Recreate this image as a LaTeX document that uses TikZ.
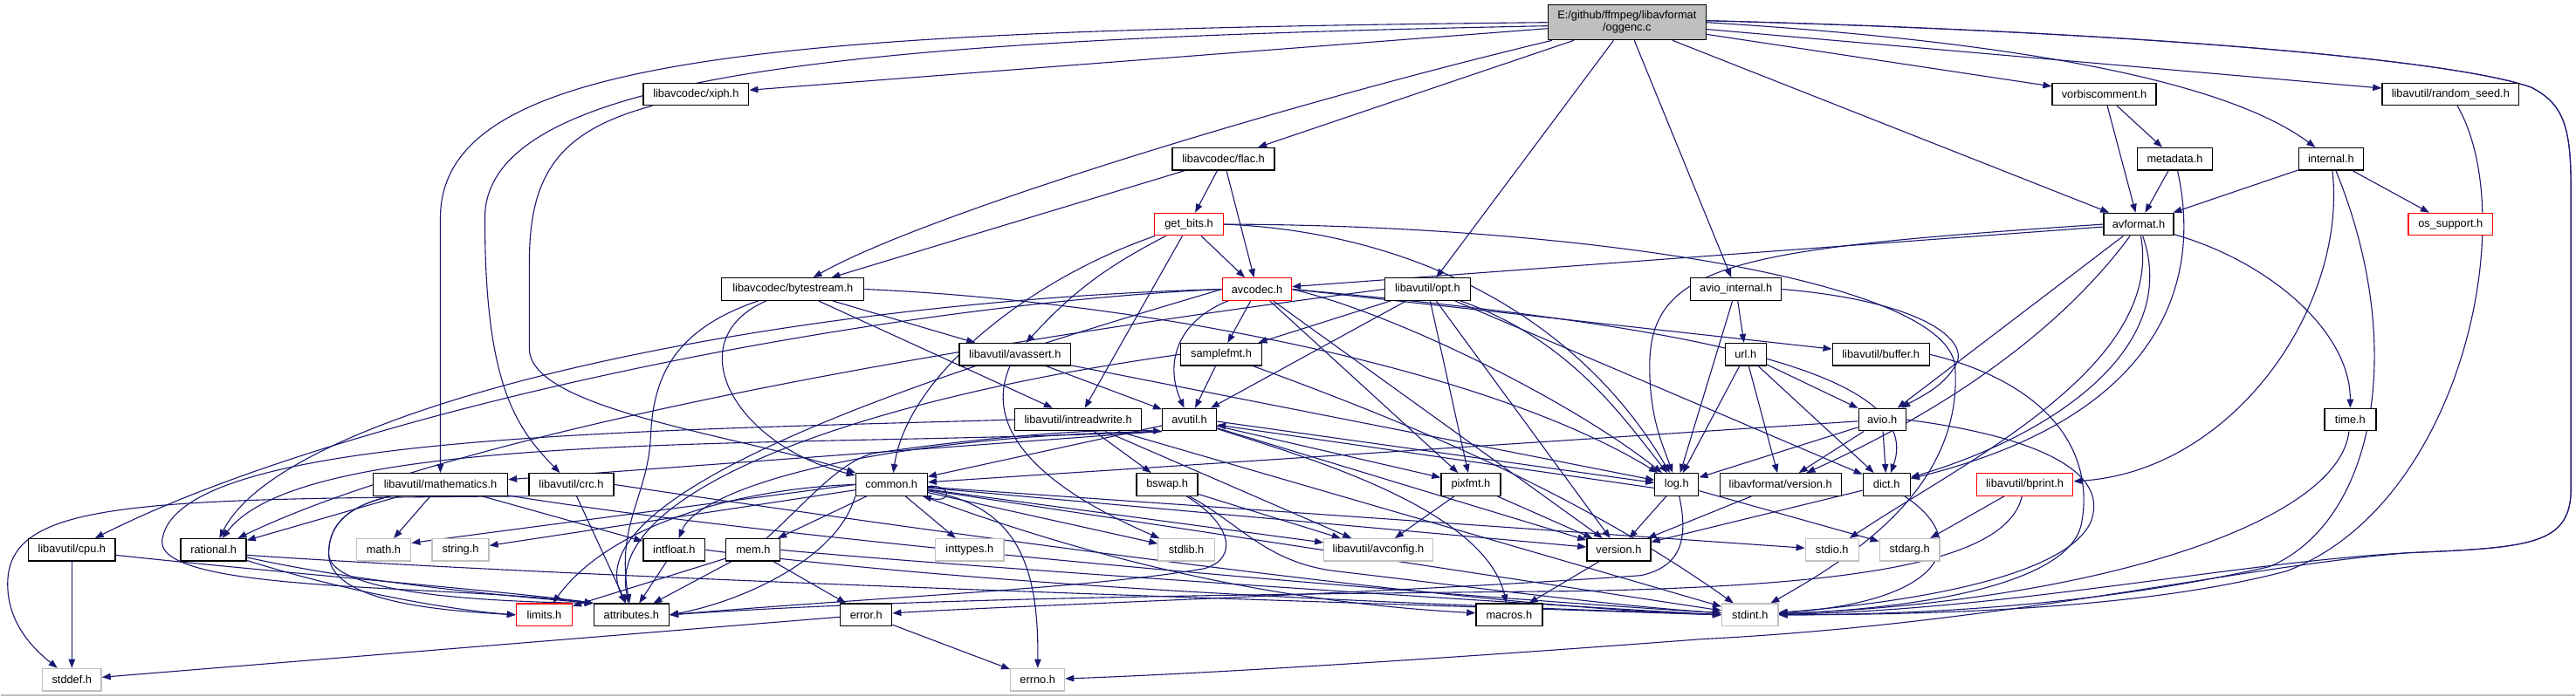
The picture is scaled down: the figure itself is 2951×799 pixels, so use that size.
\documentclass[tikz,border=0pt]{standalone}
\usepackage{fontspec}
\setmainfont{Liberation Sans}
\usetikzlibrary{arrows.meta}
\definecolor{edgec}{RGB}{25,25,112}
\definecolor{graybd}{RGB}{191,191,191}
\definecolor{rootfill}{RGB}{191,191,191}
\pgfdeclarelayer{bgl}
\pgfdeclarelayer{edgelayer}
\pgfsetlayers{bgl,edgelayer,main}
\newcommand{\mynode}[6]{\node[#5, minimum width=#4pt] (#1) at (#2,-#3) {#6};}
\begin{document}
\begin{tikzpicture}[x=1pt,y=1pt,
  box/.style={draw, rectangle, inner sep=0pt, minimum height=25.5pt, fill=white, line width=1.3pt,
    font=\fontsize{12.8pt}{14pt}\selectfont},
  nb/.style={box, draw=black},
  gb/.style={box, draw=graybd},
  rb/.style={box, draw=red},
  dep/.style={draw=edgec, line width=1.1pt, -{Triangle[length=10pt,width=7.5pt]}}]
\begin{pgfonlayer}{bgl}
\fill[white] (0,0) rectangle (2951,-799);
\draw[graybd, line width=1.5pt] (0,-797.5) -- (2951,-797.5);
\end{pgfonlayer}
\useasboundingbox (0,0) rectangle (2951,-799);

% ---------- nodes ----------
\node[box, draw=black, fill=rootfill, minimum width=181pt, minimum height=40pt, align=center]
  (root) at (1864,-25.7) {E:/github/ffmpeg/libavformat\\/oggenc.c};
\mynode{xiph}{797}{108}{121}{nb}{libavcodec/xiph.h}
\mynode{vorbis}{2411}{108}{119}{nb}{vorbiscomment.h}
\mynode{randseed}{2808}{108}{157}{nb}{libavutil/random\_seed.h}
\mynode{flac}{1401.5}{182.3}{117}{nb}{libavcodec/flac.h}
\mynode{metadata}{2492}{182.3}{86}{nb}{metadata.h}
\mynode{internal}{2671}{182.3}{74}{nb}{internal.h}
\mynode{getbits}{1362}{257.2}{79}{rb}{get\_bits.h}
\mynode{avformat}{2450.5}{257.2}{80}{nb}{avformat.h}
\mynode{ossupport}{2808}{257.2}{97}{rb}{os\_support.h}
\mynode{bytestream}{908}{331.7}{163}{nb}{libavcodec/bytestream.h}
\mynode{avcodec}{1440}{331.7}{79}{rb}{avcodec.h}
\mynode{opt}{1635.5}{331.7}{98}{nb}{libavutil/opt.h}
\mynode{aviointernal}{1989}{331.7}{104}{nb}{avio\_internal.h}
\mynode{avassert}{1162.6}{406.5}{127.5}{nb}{libavutil/avassert.h}
\mynode{samplefmt}{1399}{406.5}{92.5}{nb}{samplefmt.h}
\mynode{url}{2000}{406.5}{47}{nb}{url.h}
\mynode{buffer}{2155}{406.5}{111}{nb}{libavutil/buffer.h}
\mynode{intreadwrite}{1235}{481.3}{145}{nb}{libavutil/intreadwrite.h}
\mynode{avutil}{1362.5}{481.3}{62}{nb}{avutil.h}
\mynode{avio}{2156.5}{481.3}{54}{nb}{avio.h}
\mynode{time}{2693}{481.3}{59}{nb}{time.h}
\mynode{mathematics}{504}{555.7}{154}{nb}{libavutil/mathematics.h}
\mynode{crc}{654}{555.7}{97}{nb}{libavutil/crc.h}
\mynode{common}{1021}{555.7}{82}{nb}{common.h}
\mynode{bswap}{1337}{555.7}{70}{nb}{bswap.h}
\mynode{pixfmt}{1685}{555.7}{68}{nb}{pixfmt.h}
\mynode{log}{1921}{555.7}{50}{nb}{log.h}
\mynode{lavfversion}{2040}{555.7}{139}{nb}{libavformat/version.h}
\mynode{dict}{2161.5}{555.7}{54}{nb}{dict.h}
\mynode{bprint}{2320}{555.7}{110.5}{rb}{libavutil/bprint.h}
\mynode{cpu}{81.6}{630.7}{99.5}{nb}{libavutil/cpu.h}
\mynode{rational}{244}{630.7}{75}{nb}{rational.h}
\mynode{math}{439}{630.7}{62.5}{gb}{math.h}
\mynode{string}{527}{630.7}{65}{gb}{string.h}
\mynode{intfloat}{772}{630.7}{71}{nb}{intfloat.h}
\mynode{mem}{862.5}{630.7}{62}{nb}{mem.h}
\mynode{inttypes}{1110.6}{630.7}{78.5}{gb}{inttypes.h}
\mynode{stdlib}{1359}{630.7}{64.5}{gb}{stdlib.h}
\mynode{avconfig}{1579}{630.7}{124.5}{gb}{libavutil/avconfig.h}
\mynode{version}{1854.6}{630.7}{73}{nb}{version.h}
\mynode{stdio}{2099}{630.7}{61}{gb}{stdio.h}
\mynode{stdarg}{2188}{630.7}{69}{gb}{stdarg.h}
\mynode{limits}{623}{705.2}{64}{rb}{limits.h}
\mynode{attributes}{723}{705.2}{86}{nb}{attributes.h}
\mynode{error}{992}{705.2}{59}{nb}{error.h}
\mynode{macros}{1729}{705.2}{76}{nb}{macros.h}
\mynode{stdint}{2005}{705.2}{64.5}{gb}{stdint.h}
\mynode{stddef}{81.6}{779.5}{67.6}{gb}{stddef.h}
\mynode{errno}{1188.5}{779.5}{62}{gb}{errno.h}

% ---------- edges ----------
\begin{pgfonlayer}{edgelayer}
% root
\draw[dep] (root) -- (xiph);
\draw[dep] (root.west) .. controls (900,-35) and (504,-60) .. (504,-250) -- (mathematics);
\draw[dep] ([yshift=-4pt]root.west) .. controls (1000,-45) and (555,-80) .. (555,-250) .. controls (555,-440) and (590,-490) .. (crc);
\draw[dep] (root) .. controls (1450,-125) and (1050,-250) .. (bytestream);
\draw[dep] (root) -- (flac);
\draw[dep] (root) -- (opt);
\draw[dep] (root) -- (aviointernal);
\draw[dep] (root) -- (avformat);
\draw[dep] (root) -- (vorbis);
\draw[dep] (root) -- (randseed);
\draw[dep] (root.east) .. controls (2350,-50) and (2560,-100) .. (internal);
\draw[dep] ([yshift=2pt]root.east) .. controls (2400,-35) and (2800,-65) .. (2900,-100) .. controls (2940,-120) and (2946,-150) .. (2946,-220) -- (2946,-560) .. controls (2946,-625) and (2900,-628) .. (2760,-634) .. controls (2560,-645) and (2300,-700) .. (stdint);
\draw[dep] ([yshift=2pt]root.east) .. controls (2400,-35) and (2800,-65) .. (2900,-100) .. controls (2940,-120) and (2946,-150) .. (2946,-220) -- (2946,-560) .. controls (2946,-625) and (2900,-628) .. (2760,-634) .. controls (2560,-650) and (2300,-715) .. (1950,-733) .. controls (1700,-752) and (1400,-772) .. (errno);
% xiph
\draw[dep] (xiph) .. controls (640,-150) and (606,-200) .. (606,-300) -- (606,-400) .. controls (606,-470) and (850,-500) .. (common);
% flac
\draw[dep] (flac) -- (bytestream);
\draw[dep] (flac) -- (getbits);
\draw[dep] (flac) -- (avcodec);
% get_bits
\draw[dep] (getbits) -- (avcodec);
\draw[dep] (getbits) to[bend right=10] (avassert);
\draw[dep] (getbits) -- (intreadwrite);
\draw[dep] (getbits) .. controls (1180,-320) and (1040,-430) .. (common);
\draw[dep] (getbits.east) .. controls (1600,-265) and (1800,-350) .. (log);
\draw[dep] (getbits.east) .. controls (1800,-258) and (2230,-320) .. (2240,-420) .. controls (2250,-560) and (2120,-640) .. (stdint);
% bytestream
\draw[dep] (bytestream) -- (avassert);
\draw[dep] (bytestream) -- (intreadwrite);
\draw[dep] (bytestream) .. controls (775,-390) and (840,-510) .. (common);
\draw[dep] (bytestream) .. controls (765,-380) and (748,-440) .. (745,-500) .. controls (742,-570) and (705,-600) .. (attributes);
\draw[dep] (bytestream.east) .. controls (1300,-345) and (1700,-420) .. (log);
% avcodec
\draw[dep] (avcodec) -- (samplefmt);
\draw[dep] (avcodec) .. controls (1345,-370) and (1335,-420) .. (avutil);
\draw[dep] (avcodec) -- (pixfmt);
\draw[dep] (avcodec.east) .. controls (1600,-360) and (1800,-460) .. (log);
\draw[dep] (avcodec.east) .. controls (1900,-370) and (2210,-420) .. (dict);
\draw[dep] (avcodec.east) -- (buffer);
\draw[dep] (avcodec) -- (version);
\draw[dep] (avcodec.west) .. controls (1100,-420) and (650,-560) .. (attributes);
\draw[dep] (avcodec.west) .. controls (900,-345) and (330,-460) .. (rational);
\draw[dep] (avcodec.west) .. controls (1000,-350) and (400,-470) .. (cpu);
% opt
\draw[dep] (opt) -- (samplefmt);
\draw[dep] (opt) -- (avutil);
\draw[dep] (opt) -- (pixfmt);
\draw[dep] (opt) -- (version);
\draw[dep] (opt) .. controls (1800,-390) and (1860,-480) .. (log);
\draw[dep] (opt) -- (dict);
\draw[dep] (opt.west) .. controls (1400,-356) and (600,-460) .. (rational);
% avio_internal
\draw[dep] (aviointernal) -- (log);
\draw[dep] (aviointernal) -- (url);
\draw[dep] (aviointernal.east) .. controls (2200,-345) and (2260,-390) .. (2240,-420) .. controls (2225,-445) and (2200,-455) .. (avio);
% avformat
\draw[dep] (avformat) -- (avcodec);
\draw[dep] (avformat.west) .. controls (1995,-285) and (1890,-300) .. (1890,-420) .. controls (1890,-480) and (1905,-510) .. (log);
\draw[dep] (avformat) .. controls (2600,-300) and (2693,-380) .. (time);
\draw[dep] (avformat) .. controls (2480,-420) and (2250,-530) .. (stdio);
\draw[dep] (avformat) .. controls (2500,-400) and (2350,-500) .. (dict);
\draw[dep] (avformat) -- (avio);
\draw[dep] (avformat) .. controls (2360,-380) and (2230,-470) .. (lavfversion);
% vorbiscomment, metadata, internal
\draw[dep] (vorbis) -- (avformat);
\draw[dep] (vorbis) -- (metadata);
\draw[dep] (metadata) -- (avformat);
\draw[dep] (metadata) .. controls (2525,-330) and (2470,-480) .. (dict);
\draw[dep] (internal) -- (avformat);
\draw[dep] (internal) -- (ossupport);
\draw[dep] (internal) .. controls (2690,-350) and (2560,-540) .. (bprint);
\draw[dep] (internal) .. controls (2760,-400) and (2720,-600) .. (2600,-650) .. controls (2400,-695) and (2200,-705) .. (stdint);
\draw[dep] (randseed) .. controls (2890,-250) and (2820,-580) .. (2620,-655) .. controls (2450,-700) and (2200,-705) .. (stdint);
\draw[dep] (time) .. controls (2680,-600) and (2400,-690) .. (stdint);
% avassert, samplefmt
\draw[dep] (avassert) .. controls (1135,-470) and (1150,-540) .. (stdlib);
\draw[dep] (avassert) -- (avutil);
\draw[dep] (avassert) -- (log);
\draw[dep] (samplefmt) -- (avutil);
\draw[dep] (samplefmt.west) .. controls (1000,-455) and (690,-560) .. (attributes);
\draw[dep] (samplefmt) .. controls (1600,-480) and (1800,-560) .. (stdint);
% url, buffer
\draw[dep] (url) -- (avio);
\draw[dep] (url) -- (lavfversion);
\draw[dep] (url) -- (dict);
\draw[dep] (url) -- (log);
\draw[dep] (buffer.east) .. controls (2350,-440) and (2400,-520) .. (2385,-600) .. controls (2370,-680) and (2150,-700) .. (stdint);
% intreadwrite
\draw[dep] (intreadwrite) -- (bswap);
\draw[dep] (intreadwrite) -- (avconfig);
\draw[dep] (intreadwrite.west) .. controls (700,-495) and (200,-500) .. (185,-620) .. controls (180,-680) and (500,-670) .. (attributes.north west);
\draw[dep] (intreadwrite) -- (stdint);
% avutil
\draw[dep] (avutil) -- (common);
\draw[dep] (avutil.south west) -- (mathematics);
\draw[dep] (avutil.south west) .. controls (900,-515) and (350,-490) .. (rational);
\draw[dep] (avutil.south west) .. controls (1000,-500) and (800,-560) .. (intfloat);
\draw[dep] (avutil) -- (version);
\draw[dep] (avutil) -- (pixfmt);
\draw[dep] (avutil) .. controls (1480,-520) and (1700,-580) .. (macros);
\draw[dep] ([yshift=-2pt]avutil.east) -- ([yshift=2pt]log.west);
\draw[dep] ([yshift=-4pt]log.west) -- ([yshift=-6pt]avutil.east);
% avio
\draw[dep] (avio) -- (common);
\draw[dep] (avio) -- (log);
\draw[dep] (avio) -- (lavfversion);
\draw[dep] (avio) -- (dict);
\draw[dep] (avio.east) .. controls (2330,-500) and (2420,-540) .. (2395,-600) .. controls (2365,-660) and (2200,-690) .. (stdint);
% mathematics
\draw[dep] (mathematics) -- (rational);
\draw[dep] (mathematics) -- (math);
\draw[dep] (mathematics) -- (intfloat);
\draw[dep] (mathematics) .. controls (400,-580) and (376,-600) .. (376,-635) .. controls (376,-680) and (550,-690) .. (attributes.north west);
\draw[dep] (mathematics) .. controls (400,-580) and (376,-600) .. (376,-635) .. controls (376,-690) and (500,-700) .. (limits.west);
\draw[dep] (mathematics) .. controls (900,-620) and (1600,-680) .. (stdint);
% crc
\draw[dep] (crc.south west) .. controls (150,-572) and (8,-575) .. (8,-670) .. controls (8,-720) and (45,-750) .. (stddef);
\draw[dep] (crc.east) .. controls (1000,-600) and (1700,-700) .. (stdint);
\draw[dep] (crc) -- (attributes);
% common
\draw[dep] (common) -- (inttypes);
\draw[dep] (common) -- (stdlib);
\draw[dep] (common) -- (avconfig);
\draw[dep] (common) -- (version);
\draw[dep] (common) .. controls (1160,-580) and (1190,-640) .. (errno);
\draw[dep] (common.west) .. controls (850,-560) and (700,-600) .. (limits);
\draw[dep] (common.west) -- ([yshift=8pt]math.east);
\draw[dep] (common) -- (string);
\draw[dep] (common) -- (stdio);
\draw[dep] (common) -- (stdint);
\draw[dep] (common.south west) .. controls (960,-640) and (850,-690) .. (attributes.east);
\draw[dep] (common) -- (mem);
\draw[dep] (common) .. controls (1250,-640) and (1450,-690) .. (macros);
\draw[dep] ([yshift=-2pt]common.east) .. controls (1090,-555) and (1092,-578) .. ([xshift=-6pt]common.south east);
% bswap, pixfmt
\draw[dep] (bswap) -- (avconfig);
\draw[dep] (bswap) .. controls (1410,-600) and (1420,-640) .. (1380,-652) .. controls (1250,-675) and (1000,-685) .. (attributes.east);
\draw[dep] (bswap) .. controls (1420,-600) and (1450,-645) .. (1530,-655) .. controls (1700,-675) and (1850,-695) .. (stdint);
\draw[dep] (pixfmt) -- (avconfig);
\draw[dep] (pixfmt) -- (version);
% log, lavf version, dict, bprint
\draw[dep] (log) -- (version);
\draw[dep] (log) .. controls (1935,-620) and (1925,-650) .. (1880,-660) .. controls (1600,-680) and (1150,-695) .. (error);
\draw[dep] (log) -- (stdarg);
\draw[dep] (lavfversion) -- (version);
\draw[dep] (dict) -- (version);
\draw[dep] (dict) .. controls (2260,-620) and (2230,-690) .. (stdint);
\draw[dep] (bprint) -- (stdarg);
\draw[dep] (bprint) .. controls (2300,-640) and (2150,-672) .. (1800,-678) .. controls (1400,-682) and (1050,-686) .. (attributes.east);
% cpu, rational, intfloat, mem
\draw[dep] (cpu) -- (stddef);
\draw[dep] ([yshift=-6pt]cpu.east) .. controls (300,-655) and (600,-680) .. (attributes.north west);
\draw[dep] (rational) .. controls (400,-680) and (520,-700) .. (limits.west);
\draw[dep] (rational) .. controls (420,-670) and (600,-685) .. (attributes.north west);
\draw[dep] ([yshift=-6pt]rational.east) .. controls (700,-665) and (1500,-690) .. (stdint.west);
\draw[dep] (intfloat) -- (attributes);
\draw[dep] (intfloat.east) .. controls (1200,-680) and (1700,-695) .. (stdint.west);
\draw[dep] (mem) -- (limits);
\draw[dep] (mem) -- (attributes);
\draw[dep] (mem) -- (error);
\draw[dep] (mem) .. controls (920,-580) and (960,-530) .. (1000,-520) .. controls (1100,-505) and (1250,-490) .. (avutil.south west);
\draw[dep] (mem.east) .. controls (1100,-650) and (1700,-690) .. (stdint.west);
% version, error
\draw[dep] (version) -- (macros);
\draw[dep] (error) -- (errno);
\draw[dep] (error) -- (stddef);
\end{pgfonlayer}
\end{tikzpicture}
\end{document}
